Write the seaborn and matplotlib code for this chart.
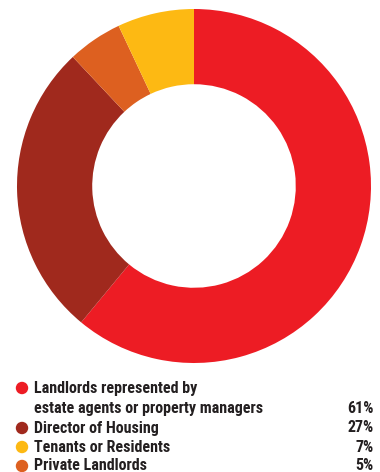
import matplotlib
matplotlib.use("Agg")
import matplotlib.pyplot as plt
import seaborn as sns

# Who manages the properties
categories = ["Landlords represented by\nestate agents or property managers",
              "Director of Housing",
              "Tenants or Residents",
              "Private Landlords"]
shares = [61, 27, 7, 5]
colors = ["#ED1C24", "#A0291D", "#FDB913", "#DD6020"]

# Ring order (clockwise from the top)
ring_order = [0, 1, 3, 2]

sns.set_theme(style="white")
plt.rcParams["font.family"] = ["Roboto Condensed", "DejaVu Sans"]

W, H = 380, 472
fig = plt.figure(figsize=(W / 100, H / 100), dpi=100)

cx, cy, r = 194, 186, 177
ax = fig.add_axes([(cx - r) / W, (H - cy - r) / H, 2 * r / W, 2 * r / H])
ax.pie([shares[i] for i in ring_order],
       colors=[colors[i] for i in ring_order],
       startangle=90, counterclock=False, radius=1.0,
       wedgeprops=dict(width=0.425, edgecolor="none"))
ax.set_xlim(-1, 1)
ax.set_ylim(-1, 1)
ax.set_aspect("equal")
ax.axis("off")

# Legend block beneath the ring
lg = fig.add_axes([0, 0, 1, 100 / H])
lg.set_xlim(0, W)
lg.set_ylim(100, 0)
lg.axis("off")

txt_kw = dict(va="center", fontsize=11.5, fontweight="bold", color="#231F20")
row_y = [16, 56, 75, 94]  # row centres (first entry spans two lines)
for i, (lab, val, col) in enumerate(zip(categories, shares, colors)):
    y = row_y[i]
    lg.scatter([22], [y], s=80, color=col, edgecolors="none")
    lines = lab.split("\n")
    for k, line in enumerate(lines):
        lg.text(34, y + 20.5 * k, line, ha="left", **txt_kw)
    vy = y + 20.5 * (len(lines) - 1)
    lg.text(374, vy, f"{val}%", ha="right", **txt_kw)

fig.savefig("out.png", dpi=100)
